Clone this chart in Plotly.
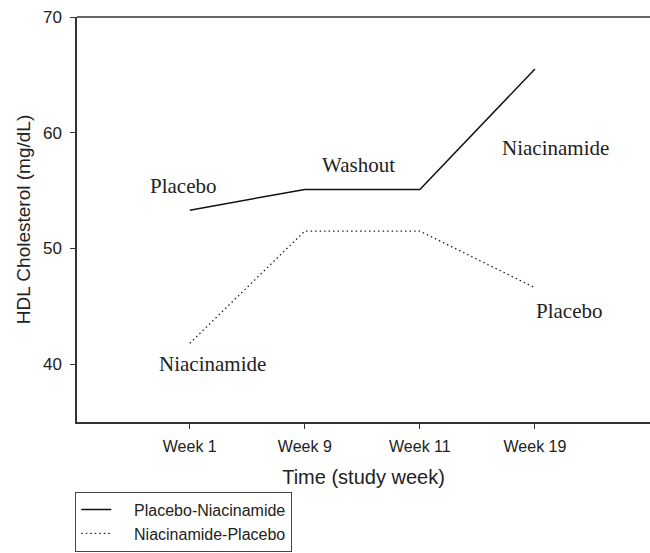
import plotly.graph_objects as go

weeks = ["Week 1", "Week 9", "Week 11", "Week 19"]
x_pos = [1, 2, 3, 4]
placebo_niacinamide = [53.3, 55.1, 55.1, 65.5]
niacinamide_placebo = [41.8, 51.5, 51.5, 46.6]

phase_labels = ["Placebo", "Washout", "Niacinamide", "Niacinamide", "Placebo"]
phase_x = [0.94, 2.47, 4.18, 1.2, 4.3]
phase_y = [55.4, 57.2, 58.7, 40.0, 44.6]

NB = "\u00a0" * 4

fig = go.Figure()
fig.add_trace(go.Scatter(x=x_pos, y=placebo_niacinamide, mode="lines",
                         name=NB + "Placebo-Niacinamide", legendgroup="a",
                         line=dict(color="#111", width=1.5)))
fig.add_trace(go.Scatter(x=x_pos, y=niacinamide_placebo, mode="lines",
                         name=NB + "Niacinamide-Placebo", legendgroup="b",
                         line=dict(color="#222", width=1.3, dash="1.5px,3px")))

for t, xx, yy in zip(phase_labels, phase_x, phase_y):
    fig.add_annotation(x=xx, y=yy, text=t, showarrow=False,
                       font=dict(family="Liberation Serif", size=21, color="#222"))

fig.add_shape(type="line", xref="paper", yref="paper", x0=0, x1=1, y0=1, y1=1,
              line=dict(color="#333", width=1.5))

fig.update_layout(
    width=650, height=553,
    margin=dict(l=77, r=0, t=17, b=131),
    plot_bgcolor="white", paper_bgcolor="white",
    font=dict(family="Liberation Sans", size=16, color="#222"),
    xaxis=dict(range=[0.02, 5.0], tickvals=x_pos, ticktext=weeks,
               showgrid=False, zeroline=False, showline=True, linecolor="#333",
               linewidth=1.5, ticks="outside", ticklen=5, tickcolor="#333",
               ticklabelstandoff=4,
               title=dict(text="Time (study week)", font=dict(size=20), standoff=16),
               tickfont=dict(size=16)),
    yaxis=dict(range=[35, 70], tickvals=[40, 50, 60, 70],
               showgrid=False, zeroline=False, showline=True, linecolor="#333",
               linewidth=1.5, ticks="outside", ticklen=5, tickcolor="#333",
               ticklabelstandoff=5, ticklabeloverflow="allow",
               title=dict(text="HDL Cholesterol (mg/dL)", font=dict(size=19), standoff=7),
               tickfont=dict(size=17)),
    legend=dict(x=-0.003, y=-0.172, xanchor="left", yanchor="top",
                bordercolor="#444", borderwidth=1, bgcolor="white",
                font=dict(size=16), tracegroupgap=0),
    showlegend=True,
)

fig.write_html("out.html", config={"displayModeBar": False},
               post_script="document.body.style.margin='0';document.body.style.overflow='hidden';")
